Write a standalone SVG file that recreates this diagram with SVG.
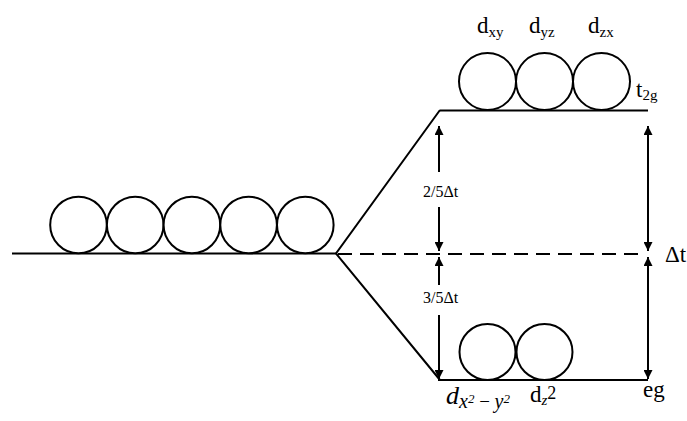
<svg xmlns="http://www.w3.org/2000/svg" width="687" height="421" viewBox="0 0 687 421">
<defs>
<marker id="ah" viewBox="0 0 10 10" refX="10" refY="5" markerWidth="9" markerHeight="9" markerUnits="userSpaceOnUse" orient="auto-start-reverse">
<path d="M0,0 L10,5 L0,10 Z" fill="#000"/>
</marker>
</defs>
<style>
.ln{stroke:#000;stroke-width:2;fill:none}
.orb{stroke:#000;stroke-width:2;fill:#fff}
.dash{stroke:#000;stroke-width:2;stroke-dasharray:14 8;fill:none}
.ar{stroke:#000;stroke-width:2;fill:none}
.t{font-family:Liberation Serif,Tinos,Times New Roman,serif}
.lbl{font-size:23px}
.sub{font-size:15px}
.small{font-size:16px}
</style>
<g id="connectors">
<line class="ln" x1="12" y1="253.5" x2="336" y2="253.5"/>
<polyline class="ln" points="440,110 336,253.5 440,380"/>
<line class="dash" x1="338" y1="254" x2="645" y2="254"/>
<line class="ar" x1="439" y1="172" x2="439" y2="126" marker-end="url(#ah)"/>
<line class="ar" x1="439" y1="207" x2="439" y2="251" marker-end="url(#ah)"/>
<line class="ar" x1="439" y1="285" x2="439" y2="257" marker-end="url(#ah)"/>
<line class="ar" x1="439" y1="315" x2="439" y2="379" marker-end="url(#ah)"/>
<line class="ar" x1="648" y1="126" x2="648" y2="251" marker-start="url(#ah)" marker-end="url(#ah)"/>
<line class="ar" x1="648" y1="257" x2="648" y2="379" marker-start="url(#ah)" marker-end="url(#ah)"/>
</g>
<g id="degenerate">
<circle class="orb" cx="78.5" cy="225" r="28.3"/>
<circle class="orb" cx="135.2" cy="225" r="28.3"/>
<circle class="orb" cx="191.9" cy="225" r="28.3"/>
<circle class="orb" cx="248.6" cy="225" r="28.3"/>
<circle class="orb" cx="305.3" cy="225" r="28.3"/>
</g>
<g id="t2g">
<line class="ln" x1="440" y1="110.5" x2="648" y2="110.5"/>
<circle class="orb" cx="487.5" cy="81.5" r="28.5"/>
<circle class="orb" cx="544.5" cy="81.5" r="28.5"/>
<circle class="orb" cx="601.5" cy="81.5" r="28.5"/>
<text class="t lbl" x="477" y="33">d<tspan class="sub" dy="4">xy</tspan></text>
<text class="t lbl" x="529" y="33">d<tspan class="sub" dy="4">yz</tspan></text>
<text class="t lbl" x="588" y="33">d<tspan class="sub" dy="4">zx</tspan></text>
<text class="t lbl" x="636" y="97">t<tspan class="sub" dy="3">2g</tspan></text>
</g>
<g id="eg">
<line class="ln" x1="438" y1="380" x2="648" y2="380"/>
<circle class="orb" cx="487.5" cy="352" r="28"/>
<circle class="orb" cx="544.5" cy="352" r="28"/>
<text class="t" x="446" y="404" font-style="italic" font-size="26px">d<tspan font-size="20px" dy="4">x</tspan><tspan font-size="13px" dy="-5">2</tspan><tspan font-size="19px" dy="5" font-style="normal"> − </tspan><tspan font-size="20px">y</tspan><tspan font-size="13px" dy="-5">2</tspan></text>
<text class="t lbl" x="530" y="402">d<tspan class="sub" dy="3" font-style="italic">z</tspan><tspan font-size="18px" dy="-6">2</tspan></text>
<text class="t lbl" x="643" y="397">eg</text>
</g>
<g id="labels">
<text class="t small" x="423" y="197">2/5Δt</text>
<text class="t small" x="423" y="303">3/5Δt</text>
<text class="t lbl" x="665" y="262">Δt</text>
</g>
</svg>
